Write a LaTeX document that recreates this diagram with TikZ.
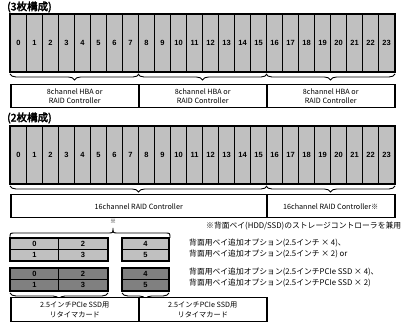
\documentclass[tikz,border=0pt]{standalone}
\usepackage{fontspec}
\setmainfont{Noto Sans CJK JP}[AutoFakeBold=3]
\newfontfamily\digitfont{Liberation Sans}
\usetikzlibrary{decorations.pathreplacing}
\definecolor{baygray}{HTML}{C0C0C0}
\definecolor{baydark}{HTML}{808080}
\begin{document}
\begin{tikzpicture}[x=1pt,y=-1pt,
 bay/.style={draw,line width=1pt,fill=baygray,minimum width=16pt,minimum height=57pt,inner sep=0pt,anchor=north west,font=\fontsize{7.5}{7.5}\digitfont\bfseries},
 cell/.style={draw,line width=1pt,minimum height=11pt,inner sep=0pt,anchor=north west,font=\fontsize{7.5}{7.5}\digitfont\bfseries},
 ctrl/.style={draw,line width=1.5pt,fill=white,minimum height=23pt,inner sep=0pt,anchor=north west,align=center,font=\fontsize{7.2}{9.5}\selectfont},
 brc/.style={decorate,decoration={brace,amplitude=6pt,raise=2pt,mirror},line width=0.9pt},
 ttl/.style={anchor=west,inner sep=0pt,font=\fontsize{10.5}{11}\selectfont\bfseries},
 note/.style={anchor=west,inner sep=0pt,font=\fontsize{7.8}{8}\selectfont}]
\useasboundingbox (0,0) rectangle (410,323);
% ---- section 1
\node[ttl] (t1) at (7,7) {(3枚構成)};
\foreach \i in {0,...,23} \node[bay] (a\i) at ({10+16*\i},14) {\i};
\draw[line width=1.8pt] (a0.north west) rectangle (a23.south east);
\draw[brc] (a0.south west) -- (a7.south east);
\draw[brc] (a8.south west) -- (a15.south east);
\draw[brc] (a16.south west) -- (a23.south east);
\node[ctrl,minimum width=128pt] (c1) at (10,84) {8channel HBA or\\RAID Controller};
\node[ctrl,minimum width=128pt] (c2) at (138,84) {8channel HBA or\\RAID Controller};
\node[ctrl,minimum width=128pt] (c3) at (266,84) {8channel HBA or\\RAID Controller};
% ---- section 2
\node[ttl] (t2) at (7,118) {(2枚構成)};
\foreach \i in {0,...,23} \node[bay] (b\i) at ({10+16*\i},126) {\i};
\draw[line width=1.8pt] (b0.north west) rectangle (b23.south east);
\draw[brc] (b0.south west) -- (b15.south east);
\draw[brc] (b16.south west) -- (b23.south east);
\node[ctrl,minimum width=256pt] (d1) at (10,194) {16channel RAID Controller};
\node[ctrl,minimum width=128pt] (d2) at (266,194) {16channel RAID Controller※};
% ---- note
\node[inner sep=0pt,font=\fontsize{6}{6}\selectfont] (mk) at (113,221) {※};
\draw[line width=0.9pt] (10,238) .. controls (10,233) .. (15,233) -- (108,233) .. controls (113,233) .. (113,228) .. controls (113,233) .. (118,233) -- (165,233) .. controls (170,233) .. (170,238);
\node[note] (n0) at (206,226) {※背面ベイ(HDD/SSD)のストレージコントローラを兼用};
% ---- small grids light
\node[cell,fill=baygray,minimum width=48pt] (p0) at (10,238) {0};
\node[cell,fill=baygray,minimum width=49pt] (p2) at (58,238) {2};
\node[cell,fill=baygray,minimum width=48pt] (p1) at (10,249) {1};
\node[cell,fill=baygray,minimum width=49pt] (p3) at (58,249) {3};
\node[cell,fill=baygray,minimum width=46pt] (p4) at (122,238) {4};
\node[cell,fill=baygray,minimum width=46pt] (p5) at (122,249) {5};
\draw[line width=1.8pt] (p0.north west) rectangle (p3.south east);
\draw[line width=1.8pt] (p4.north west) rectangle (p5.south east);
% ---- small grids dark
\node[cell,fill=baydark,minimum width=48pt] (q0) at (10,268) {0};
\node[cell,fill=baydark,minimum width=49pt] (q2) at (58,268) {2};
\node[cell,fill=baydark,minimum width=48pt] (q1) at (10,279) {1};
\node[cell,fill=baydark,minimum width=49pt] (q3) at (58,279) {3};
\node[cell,fill=baydark,minimum width=46pt] (q4) at (122,268) {4};
\node[cell,fill=baydark,minimum width=46pt] (q5) at (122,279) {5};
\draw[line width=1.8pt] (q0.north west) rectangle (q3.south east);
\draw[line width=1.8pt] (q4.north west) rectangle (q5.south east);
% ---- texts right
\node[note] (n1) at (189,243) {背面用ベイ追加オプション(2.5インチ × 4)、};
\node[note] (n2) at (189,254) {背面用ベイ追加オプション(2.5インチ × 2) or};
\node[note] (n3) at (189,272) {背面用ベイ追加オプション(2.5インチPCIe SSD × 4)、};
\node[note] (n4) at (189,283) {背面用ベイ追加オプション(2.5インチPCIe SSD × 2)};
% ---- braces + retimer
\draw[brc] (q1.south west) -- (q3.south east);
\draw[brc] (q5.south west) -- (q5.south east);
\node[ctrl,minimum width=128pt,minimum height=24pt] (r1) at (10,297) {2.5インチPCIe SSD用\\リタイマカード};
\node[ctrl,minimum width=128pt,minimum height=24pt] (r2) at (138,297) {2.5インチPCIe SSD用\\リタイマカード};
\end{tikzpicture}
\end{document}
